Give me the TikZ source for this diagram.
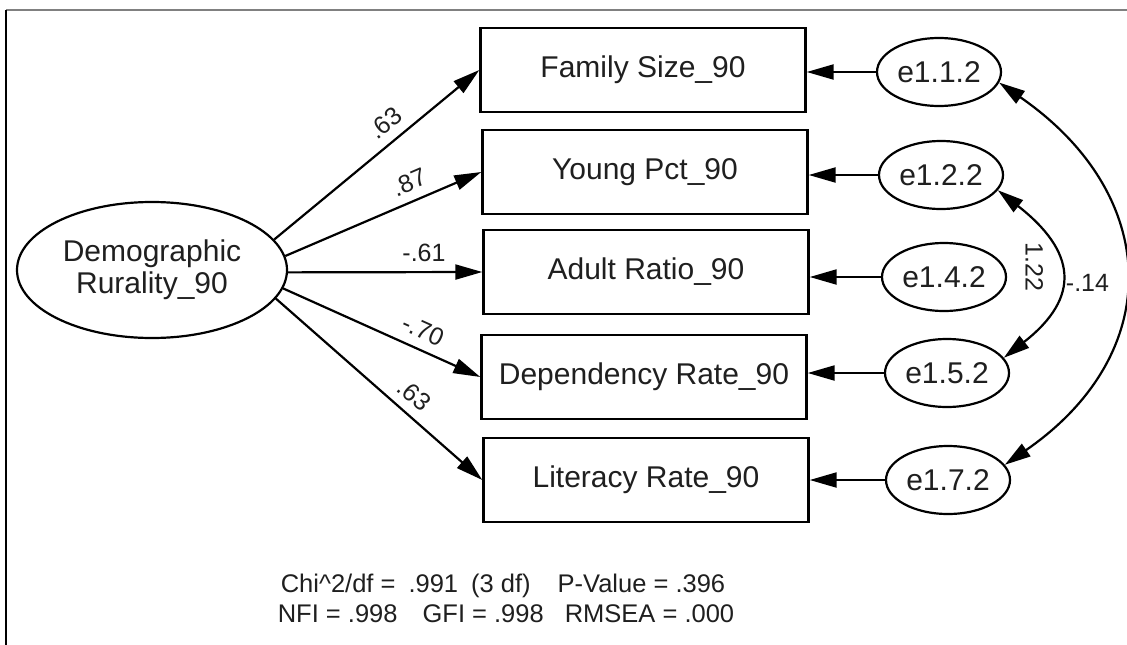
\documentclass[tikz,border=0pt]{standalone}
\usepackage{fontspec}
\setmainfont{Liberation Sans}
\usetikzlibrary{arrows.meta,shapes.geometric,calc}
\begin{document}
\begin{tikzpicture}[x=1pt,y=1pt,
  every node/.style={text=black!88},
  obs/.style={draw=black, line width=2.4pt, minimum width=325pt, minimum height=84pt, inner sep=0pt, font=\fontsize{30}{34}\selectfont},
  lat/.style={draw=black, ellipse, line width=2.2pt, inner sep=0pt, minimum width=270pt, minimum height=136pt, align=center, font=\fontsize{30}{32}\selectfont},
  err/.style={draw=black, ellipse, line width=2.2pt, inner sep=0pt, minimum width=124pt, minimum height=68pt, font=\fontsize{30}{34}\selectfont},
  arr/.style={draw=black, line width=2.2pt, -{Triangle[length=27pt,width=15pt]}},
  cov/.style={draw=black, line width=2.2pt, {Triangle[length=26pt,width=15pt]}-{Triangle[length=26pt,width=15pt]}},
  lbl/.style={font=\fontsize{25}{28}\selectfont, inner sep=2pt},
  fitstat/.style={font=\fontsize{25.5}{30}\selectfont, inner sep=0pt, anchor=base}
]
\useasboundingbox (0,0) rectangle (1127,-645);
\fill[white] (0,0) rectangle (1127,-645);
\draw[gray, line width=2pt] (6,-10) -- (1127,-10);
\draw[black, line width=2pt] (6,-10) -- (6,-645);

% latent
\node[lat] (dem) at (152,-270) {Demographic\\Rurality\_90};

% observed
\node[obs] (fam) at (643,-70) {Family Size\_90};
\node[obs] (yng) at (645,-172) {Young Pct\_90};
\node[obs] (adr) at (646,-272) {Adult Ratio\_90};
\node[obs] (dep) at (644,-377) {Dependency Rate\_90};
\node[obs] (lit) at (646,-480) {Literacy Rate\_90};

% errors
\node[err] (e112) at (939,-72) {e1.1.2};
\node[err] (e122) at (941,-175) {e1.2.2};
\node[err] (e142) at (944,-277) {e1.4.2};
\node[err] (e152) at (947,-373) {e1.5.2};
\node[err] (e172) at (948,-480) {e1.7.2};

% loadings
\draw[arr] (dem.14) -- (fam.west) node[lbl, pos=0.6, above=7pt, sloped] (l1) {.63};
\draw[arr] (dem.6) -- (yng.west) node[lbl, pos=0.67, above=7pt, sloped] (l2) {.87};
\draw[arr] (dem.-1) -- (adr.west) node[lbl, pos=0.7, above=7pt, sloped] (l3) {-.61};
\draw[arr] (dem.-8) -- (dep.west) node[lbl, pos=0.67, above=7pt, sloped] (l4) {-.70};
\draw[arr] (dem.-13) -- (lit.west) node[lbl, pos=0.61, above=7pt, sloped] (l5) {.63};

% error paths
\draw[arr] (e112) -- (e112 -| fam.east);
\draw[arr] (e122) -- (e122 -| yng.east);
\draw[arr] (e142) -- (e142 -| adr.east);
\draw[arr] (e152) -- (e152 -| dep.east);
\draw[arr] (e172) -- (e172 -| lit.east);

% covariances
\draw[cov] (e122.-15) .. controls ($(e122.-15)+(78,-61)$) and ($(e152.15)+(78,61)$) .. (e152.15)
  coordinate[pos=0.5] (m1);
\draw[cov] (e112.-10) .. controls ($(e112.-10)+(162,-112)$) and ($(e172.15)+(162,112)$) .. (e172.15)
  coordinate[pos=0.5] (m2);
\node[lbl, rotate=-90] (c1) at ($(m1)+(-25,7)$) {1.22};
\node[lbl] (c2) at ($(m2)+(-36,-9)$) {-.14};

% fit statistics
\node[fitstat] (fit1) at (503,-592) {Chi\textasciicircum 2/df =\hspace{13pt}.991\hspace{13pt}(3 df)\hspace{27pt}P-Value = .396};
\node[fitstat] (fit2) at (506,-622) {NFI = .998\hspace{25pt}GFI = .998\hspace{21pt}RMSEA = .000};
\end{tikzpicture}
\end{document}
